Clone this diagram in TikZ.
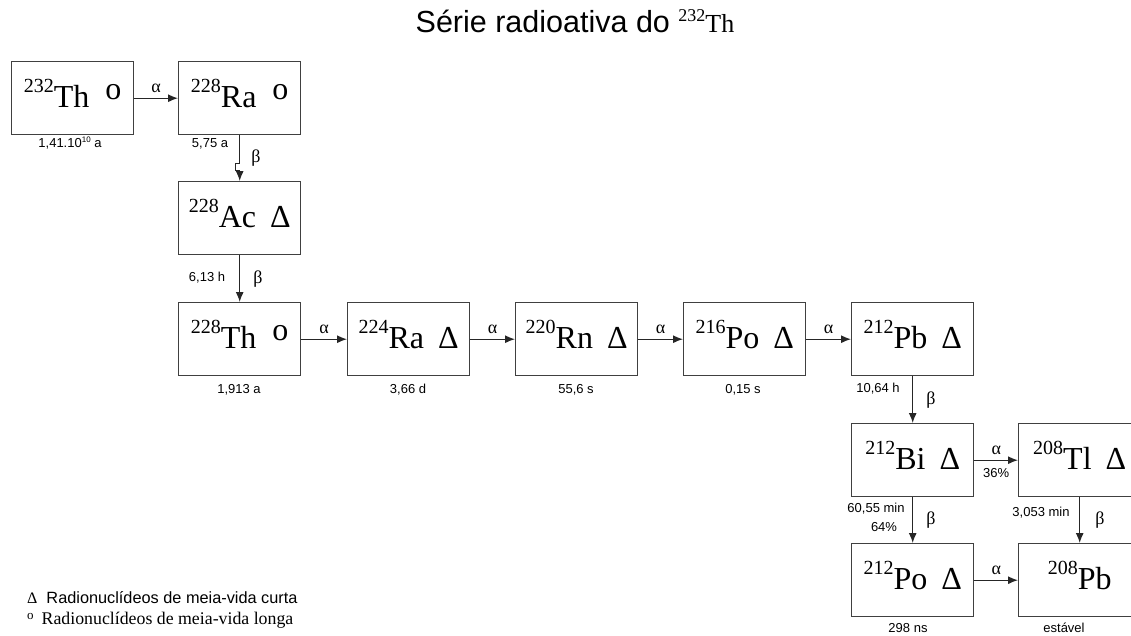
\documentclass[tikz,border=0pt]{standalone}
\usepackage{fontspec}
\setmainfont{Liberation Serif}
\setsansfont{Liberation Sans}
\usetikzlibrary{arrows.meta}

% nuclide with mass number, long / short half-life marks
\newcommand{\iso}[2]{\raisebox{15pt}{\fontsize{20}{20}\selectfont #1}#2}
\newcommand{\lng}{\hspace{16pt}\raisebox{8pt}{o}}
\newcommand{\shrt}{\hspace{14pt}Δ}

\begin{document}
\begin{tikzpicture}[x=1pt, y=-1pt,
  every node/.style={inner sep=0pt},
  nuc/.style={draw=black!75, line width=1.4pt, anchor=north west,
              minimum width=122pt, text height=46pt, text depth=27pt,
              font=\fontsize{32}{32}\selectfont},
  arr/.style={-{Latex[length=10pt,width=8pt]}, line width=1.2pt, draw=black!85},
  hl/.style={font=\sffamily\fontsize{13}{13}\selectfont},
  dec/.style={font=\fontsize{18}{18}\selectfont}
]
\fill[white] (0,0) rectangle (1131,635);
\useasboundingbox (0,0) rectangle (1131,635);
\clip (0,0) rectangle (1131,635);

% title
\node[anchor=base] (title) at (575,32)
  {\sffamily\fontsize{30.5}{30}\selectfont Série radioativa do
   \rmfamily\raisebox{11pt}{\fontsize{18}{18}\selectfont 232}\fontsize{26}{26}\selectfont Th};

% first column
\node[nuc] (th232) at (11,61)   {\iso{232}{Th}\lng};
\node[nuc] (ra228) at (178,61)  {\iso{228}{Ra}\lng};
\node[nuc] (ac228) at (178,181) {\iso{228}{Ac}\shrt};
% middle row
\node[nuc] (th228) at (178,302) {\iso{228}{Th}\lng};
\node[nuc] (ra224) at (347,302) {\iso{224}{Ra}\shrt};
\node[nuc] (rn220) at (515,302) {\iso{220}{Rn}\shrt};
\node[nuc] (po216) at (683,302) {\iso{216}{Po}\shrt};
\node[nuc] (pb212) at (851,302) {\iso{212}{Pb}\shrt};
% branching at the end
\node[nuc] (bi212) at (851,423) {\iso{212}{Bi}\shrt};
\node[nuc] (tl208) at (1018,423) {\iso{208}{Tl}\shrt};
\node[nuc] (po212) at (851,543) {\iso{212}{Po}\shrt};
\node[nuc] (pb208) at (1018,543) {\iso{208}{Pb}};

% half-lives
\node[hl] (h1) at (70,143.5)
  {1,41.10\raisebox{5pt}{\fontsize{8}{8}\selectfont 10} a};
\node[hl] (h2) at (210,143.5) {5,75 a};
\node[hl] (h3) at (207,278)   {6,13 h};
\node[hl] (h4) at (239,390)   {1,913 a};
\node[hl] (h5) at (408,390)   {3,66 d};
\node[hl] (h6) at (576,390)   {55,6 s};
\node[hl] (h7) at (743,390)   {0,15 s};
\node[hl] (h8) at (878,389)   {10,64 h};
\node[hl] (h9) at (876,509)   {60,55 min};
\node[hl] (p64) at (884,527)  {64\%};
\node[hl] (h10) at (1041,513) {3,053 min};
\node[hl] (h11) at (908,628)  {298 ns};
\node[hl] (h12) at (1064,628) {estável};

% decays
\draw[arr] (th232) -- node[dec, above=5pt] {α} (ra228);
\draw[arr] (ra228.south) -- ++(0,28) -- ++(-4,0) -- ++(0,7) -- ++(4,0) -- (ac228.north);
\node[dec] (b1) at (256,158) {β};
\draw[arr] (ac228) -- node[dec, right=13pt] {β} (th228);
\draw[arr] (th228) -- node[dec, above=5pt] {α} (ra224);
\draw[arr] (ra224) -- node[dec, above=5pt] {α} (rn220);
\draw[arr] (rn220) -- node[dec, above=5pt] {α} (po216);
\draw[arr] (po216) -- node[dec, above=5pt] {α} (pb212);
\draw[arr] (pb212) -- node[dec, right=13pt] {β} (bi212);
\draw[arr] (bi212) -- node[dec, above=5pt] {α}
                      node[hl, below=8pt] {36\%} (tl208);
\draw[arr] (bi212) -- node[dec, right=13pt] {β} (po212);
\draw[arr] (tl208) -- node[dec, right=15pt] {β} (pb208);
\draw[arr] (po212) -- node[dec, above=5pt] {α} (pb208);

% legend
\node[anchor=base west, font=\fontsize{16}{16}\selectfont] (legs) at (27,603)
  {Δ\hspace{9pt}\sffamily\fontsize{16.3}{16}\selectfont Radionuclídeos de meia-vida curta};
\node[anchor=base west, font=\fontsize{17.8}{18}\selectfont] (legl) at (27,624)
  {\raisebox{5pt}{\fontsize{13}{13}\selectfont o}\hspace{8pt}Radionuclídeos de meia-vida longa};
\end{tikzpicture}
\end{document}
